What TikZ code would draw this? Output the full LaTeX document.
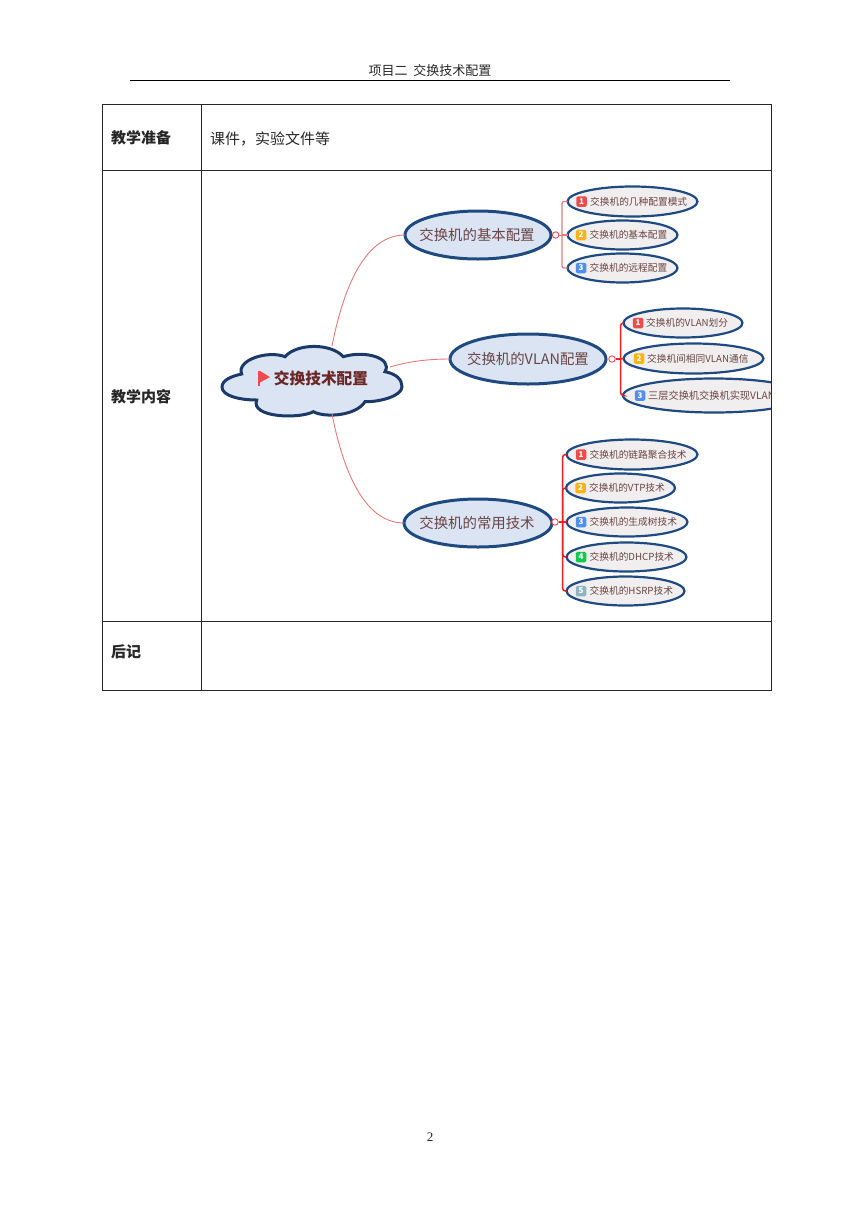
\documentclass[tikz,border=0pt]{standalone}
\usepackage{fontspec}
\setmainfont{Noto Sans CJK SC}
\newfontfamily\pagefont{Liberation Serif}
\usetikzlibrary{positioning, shapes.geometric}

\definecolor{navyline}{HTML}{1F4A7F}
\definecolor{cloudline}{HTML}{1B3A68}
\definecolor{mainfill}{HTML}{DAE4F2}
\definecolor{subfill}{HTML}{F0EEEF}
\definecolor{mindtext}{HTML}{6B4444}
\definecolor{roottext}{HTML}{6B2626}
\definecolor{pinkline}{HTML}{E87878}
\definecolor{redline}{HTML}{EE1C25}
\definecolor{badgered}{HTML}{EF4B4B}
\definecolor{badgeyellow}{HTML}{FBB315}
\definecolor{badgeblue}{HTML}{4F8FF0}
\definecolor{badgegreen}{HTML}{10C94F}
\definecolor{badgegray}{HTML}{8FB3C0}

\tikzset{
  cell/.style={inner sep=0pt, text=black!85},
  mainbox/.style={draw=navyline, fill=mainfill, ellipse, line width=3pt, inner sep=0pt, outer sep=0pt},
  maintext/.style={inner sep=0pt, text=mindtext, font=\fontsize{14.4}{17}\selectfont},
  subbox/.style={draw=navyline, fill=subfill, ellipse, line width=2.2pt, inner sep=0pt, outer sep=0pt},
  badge/.style={rounded corners=1.5pt, minimum size=10.5pt, inner sep=0pt, text=white,
    font=\fontsize{8}{9}\bfseries\selectfont},
  subtext/.style={inner sep=0pt, text=mindtext, font=\fontsize{9.7}{11}\selectfont},
  hub/.style={circle, draw=redline!70!pinkline, line width=0.8pt, fill=white, minimum size=6.5pt, inner sep=0pt},
  branch/.style={draw=pinkline, line width=0.9pt},
  palebus/.style={draw=pinkline, line width=1.2pt, rounded corners=2pt},
  bus/.style={draw=redline, line width=1.5pt, rounded corners=3pt}
}

\begin{document}
\begin{tikzpicture}[x=1pt, y=-1pt]
    \useasboundingbox (0,0) rectangle (860,1216);

    % page header and footer
    \node[cell, font=\fontsize{13}{15}\selectfont] (title) at (430,70.5) {项目二\ \ 交换技术配置};
    \coordinate (ruleL) at (130,80);
    \coordinate (ruleR) at (730,80);
    \draw[line width=1pt] (ruleL) -- (ruleR);
    \node[cell, font=\fontsize{13}{15}\pagefont\selectfont] (pageno) at (430,1137) {2};

    % table text
    \node[cell, font=\fontsize{15}{18}\bfseries\selectfont] (prep) at (141,138) {教学准备};
    \node[cell, font=\fontsize{15}{18}\selectfont, anchor=west] (prepval) at (210,139) {课件，实验文件等};
    \node[cell, font=\fontsize{15}{18}\bfseries\selectfont] (content) at (141,397) {教学内容};
    \node[cell, font=\fontsize{15}{18}\bfseries\selectfont] (notes) at (126,652) {后记};

    % cloud
    \draw[draw=cloudline, fill=mainfill, line width=3pt]
      (241.7,374) .. controls (236,360) and (268,350) .. (285,356.7)
      .. controls (297,343) and (331,343) .. (343.3,356.7)
      .. controls (365,350) and (393,358) .. (385,371.7)
      .. controls (397,374) and (402,380) .. (402,386.7)
      .. controls (402,396) and (380,402) .. (365,401.7)
      .. controls (356,416) and (325,418) .. (313.3,411.7)
      .. controls (300,419) and (250,418) .. (256.7,400)
      .. controls (240,400) and (222,396) .. (222,387)
      .. controls (222,380) and (232,376) .. (241.7,374) -- cycle;
    \fill[badgered] (258,371) rectangle (260,386);
    \fill[badgered] (260,371) -- (270,377) -- (260,382.5) -- cycle;
    \node[inner sep=0pt, text=roottext, font=\fontsize{15.7}{18}\bfseries\selectfont] (root) at (321,378.5) {交换技术配置};
    \coordinate (rootup) at (332,346);
    \coordinate (rootmid) at (390,367);
    \coordinate (rootdown) at (332,414);

    % first level
    \node[mainbox, minimum width=146pt, minimum height=48pt] (basic) at (478,235) {};
    \node[mainbox, minimum width=156pt, minimum height=50pt] (vlan) at (528,359) {};
    \node[mainbox, minimum width=148pt, minimum height=48pt] (common) at (478,523) {};
    \node[maintext] (basictxt) at (477,235) {交换机的基本配置};
    \node[maintext] (vlantxt) at (528,359) {交换机的VLAN配置};
    \node[maintext] (commontxt) at (477,523) {交换机的常用技术};

    \draw[branch] (rootup) .. controls (345,280) and (368,235) .. (basic.west);
    \draw[branch] (rootmid) .. controls (410,361) and (430,359) .. (vlan.west);
    \draw[branch] (rootdown) .. controls (345,480) and (368,523) .. (common.west);

    % second level, basic
    \node[subbox, minimum width=130pt, minimum height=30pt] (sub11) at (632.5,201.5) {};
    \node[subbox, minimum width=110pt, minimum height=29pt] (sub12) at (622.5,235) {};
    \node[subbox, minimum width=110pt, minimum height=29pt] (sub13) at (622.5,268) {};
    \node[badge, fill=badgered] (b11) at (581.5,201.5) {1};
    \node[badge, fill=badgeyellow] (b12) at (581,235) {2};
    \node[badge, fill=badgeblue] (b13) at (581,268) {3};
    \node[subtext, right=3pt of b11] (t11) {交换机的几种配置模式};
    \node[subtext, right=3pt of b12] (t12) {交换机的基本配置};
    \node[subtext, right=3pt of b13] (t13) {交换机的远程配置};

    \node[hub] (hub1) at (555.7,235) {};
    \coordinate (bus1) at (562,235);
    \draw[branch] (hub1) -- (bus1);
    \draw[palebus] (bus1) |- (sub11.west);
    \draw[palebus] (bus1) -- (sub12.west);
    \draw[palebus] (bus1) |- (sub13.west);

    % second level, vlan
    \begin{scope}
      \clip (201,171) rectangle (771,621);
      \node[subbox, minimum width=119pt, minimum height=29pt] (sub21) at (683,323) {};
      \node[subbox, minimum width=140pt, minimum height=30pt] (sub22) at (693.5,358.5) {};
      \node[subbox, minimum width=182pt, minimum height=34pt] (sub23) at (714,395.5) {};
      \node[badge, fill=badgered] (b21) at (638,323) {1};
      \node[badge, fill=badgeyellow] (b22) at (639,358.5) {2};
      \node[badge, fill=badgeblue] (b23) at (640,395.5) {3};
      \node[subtext, right=2.5pt of b21] (t21) {交换机的VLAN划分};
      \node[subtext, right=2.5pt of b22] (t22) {交换机间相同VLAN通信};
      \node[subtext, right=2.5pt of b23, font=\fontsize{10.2}{12}\selectfont] (t23) {三层交换机交换机实现VLAN};
    \end{scope}

    \node[hub] (hub2) at (612,359) {};
    \coordinate (bus2) at (620.5,359);
    \draw[bus] (hub2) -- (bus2);
    \draw[bus] (bus2) |- (sub21.west);
    \draw[bus] (bus2) -- (sub22.west);
    \draw[bus] (bus2) |- (sub23.west);

    % second level, common
    \node[subbox, minimum width=131pt, minimum height=30pt] (sub31) at (632,454.5) {};
    \node[subbox, minimum width=109pt, minimum height=29pt] (sub32) at (620.5,488) {};
    \node[subbox, minimum width=121pt, minimum height=29pt] (sub33) at (627,522) {};
    \node[subbox, minimum width=120pt, minimum height=29pt] (sub34) at (626.5,557) {};
    \node[subbox, minimum width=118pt, minimum height=29pt] (sub35) at (625.5,591) {};
    \node[badge, fill=badgered] (b31) at (581,454.5) {1};
    \node[badge, fill=badgeyellow] (b32) at (580.5,488) {2};
    \node[badge, fill=badgeblue] (b33) at (581,522) {3};
    \node[badge, fill=badgegreen] (b34) at (581,557) {4};
    \node[badge, fill=badgegray] (b35) at (581,591) {5};
    \node[subtext, right=3pt of b31] (t31) {交换机的链路聚合技术};
    \node[subtext, right=3pt of b32] (t32) {交换机的VTP技术};
    \node[subtext, right=3pt of b33] (t33) {交换机的生成树技术};
    \node[subtext, right=3pt of b34] (t34) {交换机的DHCP技术};
    \node[subtext, right=3pt of b35] (t35) {交换机的HSRP技术};

    \node[hub] (hub3) at (555,522) {};
    \coordinate (bus3) at (562.5,522);
    \draw[bus] (hub3) -- (bus3);
    \draw[bus] (bus3) |- (sub31.west);
    \draw[bus] (bus3) |- (sub32.west);
    \draw[bus] (bus3) -- (sub33.west);
    \draw[bus] (bus3) |- (sub34.west);
    \draw[bus] (bus3) |- (sub35.west);

    % table rules
    \draw[line width=0.8pt, black!85] (102,104) rectangle (771,690);
    \draw[line width=0.8pt, black!85] (201,104) -- (201,690);
    \draw[line width=0.8pt, black!85] (102,170.5) -- (771,170.5);
    \draw[line width=0.8pt, black!85] (102,621.5) -- (771,621.5);
\end{tikzpicture}
\end{document}
